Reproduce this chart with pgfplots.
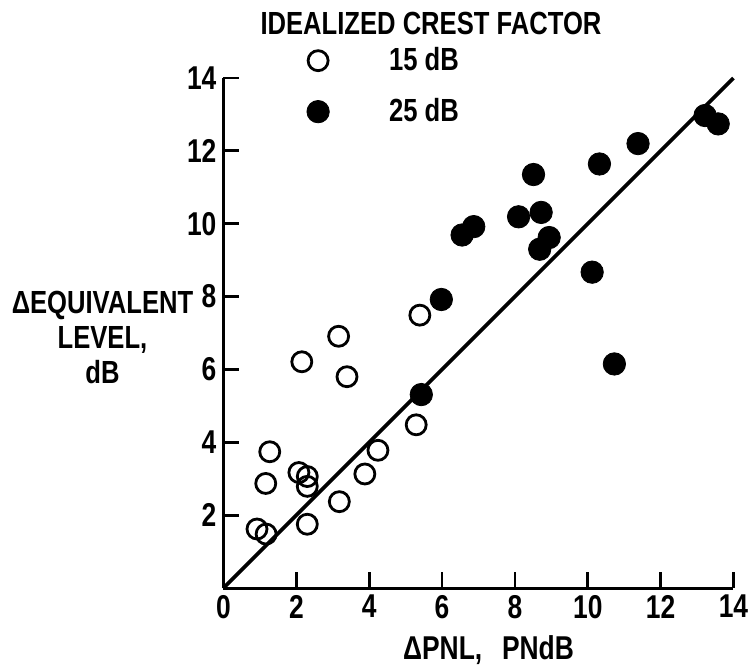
\documentclass[border=0pt]{standalone}
\usepackage{fontspec}
\setmainfont{Liberation Sans}[FakeStretch=0.8]
\usepackage{pgfplots}
\pgfplotsset{compat=1.18}
\pgfplotstableread{
x y
3.16 6.91
2.15 6.21
3.39 5.80
5.39 7.49
5.29 4.48
4.24 3.78
3.88 3.13
3.18 2.37
1.27 3.74
1.16 2.87
2.07 3.17
2.30 3.06
2.30 2.79
2.30 1.75
0.92 1.62
1.17 1.48
}\opendata
\pgfplotstableread{
x y
5.43 5.31
5.98 7.92
6.55 9.69
6.87 9.92
8.10 10.19
8.51 11.35
8.72 10.31
8.94 9.62
8.68 9.30
10.12 8.67
10.73 6.15
10.32 11.64
11.38 12.20
13.22 12.97
13.58 12.74
}\filleddata
\begin{document}
\begin{tikzpicture}
\path[use as bounding box] (-111.75pt,-41.5pt) rectangle (263.75pt,294pt);
\begin{axis}[
  at={(0pt,0pt)}, anchor=south west,
  scale only axis, width=255pt, height=255pt,
  xmin=0, xmax=14, ymin=0, ymax=14,
  axis x line*=bottom, axis y line*=left,
  x axis line style={-}, y axis line style={-},
  axis line style={line width=1.5pt, black},
  xtick pos=bottom, ytick pos=left,
  xtick={0,2,...,14}, ytick={2,4,...,14},
  tick align=inside, major tick length=7.8pt,
  tick style={line width=1.4pt, black},
  tick label style={font=\bfseries\fontsize{16.5}{19}\selectfont},
  /pgf/number format/assume math mode=true,
  clip=false,
  legend style={draw=none, fill=none, inner sep=0pt, outer sep=0pt,
    at={(axis description cs:0.162,1.084)}, anchor=north west,
    font=\bfseries\fontsize{16}{19}\selectfont,
    nodes={inner sep=0pt}, row sep=0pt,
    /tikz/every even column/.append style={column sep=0pt}},
  legend cell align=left,
  legend image code/.code={%
    \path[draw=none, fill=none] (-6pt,-12.75pt) rectangle (35.5pt,12.75pt);
    \draw[#1] plot coordinates {(0pt,0pt)};},
]
\addplot[only marks, mark=o, mark size=5pt, black, line width=1.4pt] table {\opendata};
\addlegendentry{15 dB}
\addplot[only marks, mark=*, mark size=5.6pt, black, fill=black] table {\filleddata};
\addlegendentry{25 dB}
\addplot[black, line width=1.8pt, forget plot] coordinates {(0,0) (14,14)};
\end{axis}
\node[font=\bfseries\fontsize{16}{19}\selectfont] at (103.75pt,282.5pt) {IDEALIZED CREST FACTOR};
\node[font=\bfseries\fontsize{16.5}{19}\selectfont] at (132.5pt,-31pt) {ΔPNL,\hspace{0.6em}PNdB};
\node[font=\bfseries\fontsize{16}{17.5}\selectfont, align=center] at (-60.5pt,125.5pt) {ΔEQUIVALENT\\LEVEL,\\dB};
\end{tikzpicture}
\end{document}
